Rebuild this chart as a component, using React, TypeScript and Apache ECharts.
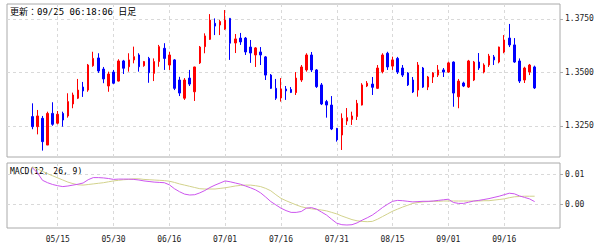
import React, { useEffect, useRef } from "react";
import * as echarts from "echarts";

const PAD_BEFORE = ["05/01", "05/02", "05/05", "05/06", "05/07"];
const DATES = [
  "05/08", "05/09", "05/12", "05/13", "05/14", "05/15", "05/16", "05/19", "05/20", "05/21", "05/22", "05/23", "05/26", "05/27", "05/28", "05/29", "05/30",
  "06/02", "06/03", "06/04", "06/05", "06/06", "06/09", "06/10", "06/11", "06/12", "06/13", "06/16", "06/17", "06/18", "06/19", "06/20", "06/23", "06/24", "06/25", "06/26", "06/27", "06/30",
  "07/01", "07/02", "07/03", "07/04", "07/07", "07/08", "07/09", "07/10", "07/11", "07/14", "07/15", "07/16", "07/17", "07/18", "07/21", "07/22", "07/23", "07/24", "07/25", "07/28", "07/29", "07/30", "07/31",
  "08/01", "08/04", "08/05", "08/06", "08/07", "08/08", "08/11", "08/12", "08/13", "08/14", "08/15", "08/18", "08/19", "08/20", "08/21", "08/22", "08/25", "08/26", "08/27", "08/28", "08/29",
  "09/01", "09/02", "09/03", "09/04", "09/05", "09/08", "09/09", "09/10", "09/11", "09/12", "09/15", "09/16", "09/17", "09/18", "09/19", "09/22", "09/23", "09/24",
];
const PAD_AFTER = ["09/25", "09/26", "09/29", "09/30", "10/01"];
const LABEL_DATES = ["05/15", "05/30", "06/16", "07/01", "07/16", "07/31", "08/15", "09/01", "09/16"];

const OPEN = [
  1.3293, 1.3246, 1.3285, 1.3160, 1.3308, 1.3262, 1.3308, 1.3296, 1.3352, 1.3379,
  1.3431, 1.3417, 1.3531, 1.3567, 1.3515, 1.3436, 1.3501, 1.3459, 1.3553, 1.3526,
  1.3558, 1.3581, 1.3531, 1.3565, 1.3495, 1.3550, 1.3612, 1.3534, 1.3558, 1.3464,
  1.3379, 1.3473, 1.3409, 1.3544, 1.3620, 1.3654, 1.3729, 1.3721, 1.3702, 1.3752,
  1.3637, 1.3660, 1.3660, 1.3618, 1.3581, 1.3595, 1.3572, 1.3487, 1.3425, 1.3380,
  1.3422, 1.3420, 1.3405, 1.3464, 1.3511, 1.3581, 1.3511, 1.3441, 1.3363, 1.3347,
  1.3238, 1.3207, 1.3272, 1.3280, 1.3293, 1.3347, 1.3436, 1.3445, 1.3425, 1.3503,
  1.3589, 1.3529, 1.3565, 1.3520, 1.3497, 1.3464, 1.3417, 1.3520, 1.3431, 1.3478,
  1.3487, 1.3511, 1.3501, 1.3548, 1.3386, 1.3450, 1.3431, 1.3464, 1.3548, 1.3501,
  1.3534, 1.3572, 1.3548, 1.3595, 1.3660, 1.3628, 1.3553, 1.3464, 1.3501, 1.3525,
];
const CLOSE = [
  1.3246, 1.3296, 1.3176, 1.3308, 1.3257, 1.3304, 1.3277, 1.3363, 1.3394, 1.3417,
  1.3413, 1.3534, 1.3565, 1.3506, 1.3469, 1.3492, 1.3449, 1.3553, 1.3519, 1.3558,
  1.3573, 1.3526, 1.3550, 1.3498, 1.3550, 1.3620, 1.3565, 1.3581, 1.3425, 1.3403,
  1.3464, 1.3445, 1.3525, 1.3618, 1.3670, 1.3744, 1.3716, 1.3737, 1.3744, 1.3636,
  1.3656, 1.3642, 1.3595, 1.3590, 1.3614, 1.3581, 1.3487, 1.3425, 1.3379, 1.3422,
  1.3413, 1.3406, 1.3473, 1.3525, 1.3581, 1.3511, 1.3433, 1.3352, 1.3347, 1.3235,
  1.3184, 1.3285, 1.3288, 1.3296, 1.3355, 1.3441, 1.3449, 1.3430, 1.3520, 1.3581,
  1.3525, 1.3558, 1.3501, 1.3487, 1.3441, 1.3408, 1.3534, 1.3431, 1.3478, 1.3497,
  1.3511, 1.3501, 1.3544, 1.3403, 1.3459, 1.3436, 1.3553, 1.3548, 1.3520, 1.3534,
  1.3576, 1.3558, 1.3618, 1.3651, 1.3628, 1.3548, 1.3459, 1.3520, 1.3534, 1.3427,
];
const LOW = [
  1.3234, 1.3210, 1.3134, 1.3160, 1.3250, 1.3257, 1.3246, 1.3288, 1.3332, 1.3375,
  1.3385, 1.3409, 1.3526, 1.3497, 1.3449, 1.3409, 1.3445, 1.3457, 1.3492, 1.3503,
  1.3542, 1.3503, 1.3526, 1.3451, 1.3459, 1.3526, 1.3511, 1.3511, 1.3417, 1.3389,
  1.3371, 1.3436, 1.3366, 1.3539, 1.3589, 1.3651, 1.3674, 1.3674, 1.3698, 1.3558,
  1.3590, 1.3628, 1.3581, 1.3544, 1.3525, 1.3534, 1.3464, 1.3422, 1.3371, 1.3363,
  1.3371, 1.3403, 1.3394, 1.3455, 1.3503, 1.3501, 1.3427, 1.3347, 1.3288, 1.3230,
  1.3176, 1.3137, 1.3254, 1.3254, 1.3277, 1.3345, 1.3431, 1.3394, 1.3422, 1.3495,
  1.3511, 1.3511, 1.3492, 1.3478, 1.3436, 1.3403, 1.3386, 1.3427, 1.3417, 1.3450,
  1.3478, 1.3478, 1.3497, 1.3339, 1.3332, 1.3431, 1.3427, 1.3459, 1.3511, 1.3495,
  1.3525, 1.3534, 1.3542, 1.3589, 1.3618, 1.3544, 1.3450, 1.3450, 1.3487, 1.3422,
];
const HIGH = [
  1.3355, 1.3324, 1.3296, 1.3316, 1.3360, 1.3319, 1.3316, 1.3402, 1.3405, 1.3469,
  1.3455, 1.3539, 1.3596, 1.3589, 1.3525, 1.3503, 1.3511, 1.3561, 1.3558, 1.3589,
  1.3620, 1.3589, 1.3553, 1.3572, 1.3565, 1.3628, 1.3636, 1.3596, 1.3562, 1.3479,
  1.3473, 1.3511, 1.3526, 1.3623, 1.3682, 1.3772, 1.3752, 1.3744, 1.3791, 1.3754,
  1.3679, 1.3684, 1.3665, 1.3651, 1.3618, 1.3618, 1.3576, 1.3492, 1.3469, 1.3473,
  1.3436, 1.3431, 1.3501, 1.3534, 1.3589, 1.3595, 1.3515, 1.3450, 1.3371, 1.3389,
  1.3240, 1.3308, 1.3333, 1.3316, 1.3371, 1.3449, 1.3459, 1.3478, 1.3534, 1.3589,
  1.3596, 1.3573, 1.3572, 1.3534, 1.3501, 1.3478, 1.3548, 1.3525, 1.3483, 1.3501,
  1.3534, 1.3520, 1.3550, 1.3551, 1.3469, 1.3456, 1.3558, 1.3553, 1.3590, 1.3542,
  1.3586, 1.3581, 1.3620, 1.3674, 1.3726, 1.3660, 1.3565, 1.3526, 1.3539, 1.3531,
];

const MACD = [
  0.0122, 0.0105, 0.0080, 0.0072, 0.0066, 0.0062, 0.0059, 0.0061, 0.0064, 0.0067,
  0.0071, 0.0082, 0.0089, 0.0089, 0.0088, 0.0086, 0.0083, 0.0084, 0.0084, 0.0084,
  0.0083, 0.0081, 0.0078, 0.0076, 0.0074, 0.0073, 0.0072, 0.0065, 0.0052, 0.0042,
  0.0034, 0.0031, 0.0032, 0.0038, 0.0046, 0.0056, 0.0064, 0.0071, 0.0078, 0.0075,
  0.0071, 0.0067, 0.0061, 0.0055, 0.0048, 0.0038, 0.0024, 0.0009, -0.0002, -0.0013,
  -0.0021, -0.0027, -0.0027, -0.0024, -0.0013, -0.0011, -0.0016, -0.0026, -0.0036, -0.0050,
  -0.0063, -0.0068, -0.0069, -0.0068, -0.0062, -0.0053, -0.0045, -0.0036, -0.0024, -0.0011,
  0.0000, 0.0010, 0.0013, 0.0012, 0.0010, 0.0008, 0.0009, 0.0010, 0.0010, 0.0011,
  0.0013, 0.0015, 0.0017, 0.0006, 0.0003, 0.0003, 0.0007, 0.0011, 0.0013, 0.0016,
  0.0019, 0.0023, 0.0027, 0.0032, 0.0037, 0.0035, 0.0028, 0.0023, 0.0018, 0.0009,
];
const SIGNAL = [
  0.0125, 0.0118, 0.0110, 0.0102, 0.0095, 0.0088, 0.0081, 0.0074, 0.0069, 0.0065,
  0.0064, 0.0066, 0.0068, 0.0070, 0.0072, 0.0075, 0.0078, 0.0080, 0.0082, 0.0083,
  0.0085, 0.0085, 0.0083, 0.0082, 0.0081, 0.0080, 0.0079, 0.0077, 0.0073, 0.0068,
  0.0064, 0.0060, 0.0056, 0.0052, 0.0051, 0.0051, 0.0051, 0.0053, 0.0055, 0.0058,
  0.0061, 0.0063, 0.0064, 0.0064, 0.0062, 0.0059, 0.0053, 0.0045, 0.0032, 0.0020,
  0.0012, 0.0005, -0.0002, -0.0008, -0.0012, -0.0015, -0.0017, -0.0019, -0.0022, -0.0027,
  -0.0032, -0.0039, -0.0045, -0.0051, -0.0055, -0.0057, -0.0058, -0.0057, -0.0050, -0.0041,
  -0.0032, -0.0023, -0.0016, -0.0009, -0.0003, 0.0003, 0.0006, 0.0008, 0.0009, 0.0010,
  0.0010, 0.0011, 0.0011, 0.0011, 0.0011, 0.0011, 0.0011, 0.0011, 0.0011, 0.0012,
  0.0012, 0.0014, 0.0016, 0.0018, 0.0022, 0.0025, 0.0026, 0.0027, 0.0027, 0.0027,
];

const PRICE_TICKS = [1.325, 1.35, 1.375];
const MACD_TICKS = [0, 0.01];

const FONT = "'DejaVu Sans Mono', 'Noto Sans CJK JP', monospace";

export default function App() {
  const ref = useRef<HTMLDivElement>(null);
  useEffect(() => {
    if (!ref.current) return;
    const chart = echarts.init(ref.current, undefined, { renderer: "svg" });
    const cats = [...PAD_BEFORE, ...DATES, ...PAD_AFTER];
    const padB = PAD_BEFORE.map(() => "-");
    const padA = PAD_AFTER.map(() => "-");
    const candles = DATES.map((_, i) => [OPEN[i], CLOSE[i], LOW[i], HIGH[i]]);
    const showDate = (_idx: number, val: string) => LABEL_DATES.indexOf(val) >= 0;
    const split = {
      show: true,
      interval: showDate,
      lineStyle: { color: "#d9d9d9", type: [3, 3], width: 1 },
    };
    const hSplit = { show: true, lineStyle: { color: "#d9d9d9", type: [3, 3], width: 1 } };
    chart.setOption({
      animation: false,
      backgroundColor: "#ffffff",
      textStyle: { fontFamily: FONT },
      grid: [
        { left: 7, top: 4, width: 553, height: 153, show: true, borderColor: "#aaaaaa", borderWidth: 1 },
        { left: 7, top: 163, width: 553, height: 65, show: true, borderColor: "#aaaaaa", borderWidth: 1 },
      ],
      xAxis: [
        {
          type: "category", gridIndex: 0, data: cats, boundaryGap: false,
          axisLine: { show: false }, axisTick: { show: false }, axisLabel: { show: false },
          splitLine: split,
        },
        {
          type: "category", gridIndex: 1, data: cats, boundaryGap: false,
          axisLine: { show: false }, axisTick: { show: false },
          axisLabel: { interval: showDate, fontSize: 8, color: "#222", margin: 7, fontFamily: FONT },
          splitLine: split,
        },
      ],
      yAxis: [
        {
          type: "value", gridIndex: 0, position: "right", min: 1.31042, max: 1.38192,
          axisLine: { show: false },
          axisTick: { show: true, length: 3, customValues: PRICE_TICKS, lineStyle: { color: "#aaaaaa" } },
          axisLabel: { customValues: PRICE_TICKS, formatter: (v: number) => v.toFixed(4), fontSize: 8, color: "#222", margin: 5, fontFamily: FONT },
          splitLine: hSplit,
        },
        {
          type: "value", gridIndex: 1, position: "right", min: -0.0079, max: 0.01377,
          axisLine: { show: false },
          axisTick: { show: true, length: 3, customValues: MACD_TICKS, lineStyle: { color: "#aaaaaa" } },
          axisLabel: { customValues: MACD_TICKS, formatter: (v: number) => v.toFixed(2), fontSize: 8, color: "#222", margin: 5, fontFamily: FONT },
          splitLine: hSplit,
        },
      ],
      graphic: [
        { type: "text", left: 10, top: 7, style: { text: "更新：09/25 06:18:06 日足", fontSize: 9, fontFamily: FONT, fill: "#000" } },
        { type: "text", left: 10, top: 167, style: { text: "MACD(12, 26, 9)", fontSize: 8, fontFamily: FONT, fill: "#000" } },
      ],
      series: [
        {
          type: "candlestick", xAxisIndex: 0, yAxisIndex: 0,
          data: [...padB, ...candles, ...padA],
          barWidth: 2,
          itemStyle: { color: "#ff0000", color0: "#0000ff", borderColor: "#ff0000", borderColor0: "#0000ff", borderWidth: 1 },
        },
        {
          type: "line", xAxisIndex: 1, yAxisIndex: 1, data: [...padB, ...SIGNAL, ...padA],
          showSymbol: false, lineStyle: { color: "#d2d28c", width: 1 },
        },
        {
          type: "line", xAxisIndex: 1, yAxisIndex: 1, data: [...padB, ...MACD, ...padA],
          showSymbol: false, lineStyle: { color: "#cc55ee", width: 1 },
        },
      ],
    });
    return () => chart.dispose();
  }, []);
  return <div ref={ref} style={{ position: "fixed", left: 0, top: 0, width: 600, height: 245 }} />;
}
